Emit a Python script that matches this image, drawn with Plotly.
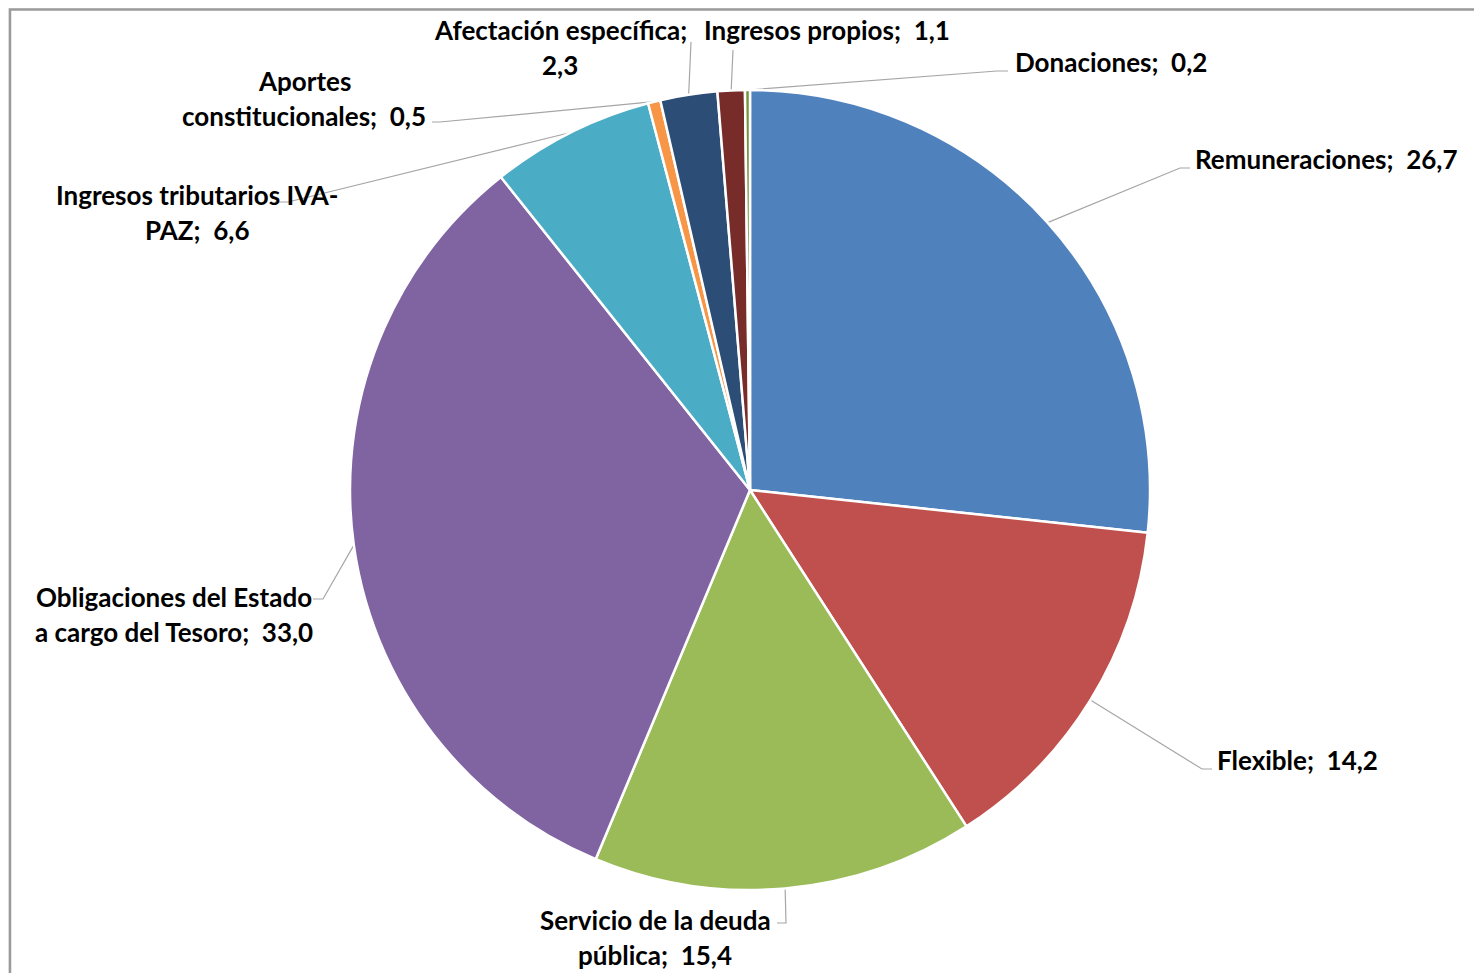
import math
import plotly.graph_objects as go

# ---- data ----
categories = ["Remuneraciones", "Flexible", "Servicio de la deuda pública",
              "Obligaciones del Estado a cargo del Tesoro", "Ingresos tributarios IVA-PAZ",
              "Aportes constitucionales", "Afectación específica", "Ingresos propios", "Donaciones"]
values = [26.7, 14.2, 15.4, 33.0, 6.6, 0.5, 2.3, 1.1, 0.2]
# how each label wraps ("|" marks a line break)
label_wraps = ["Remuneraciones;  {v}", "Flexible;  {v}", "Servicio de la deuda|pública;  {v}",
               "Obligaciones del Estado|a cargo del Tesoro;  {v}", "Ingresos tributarios IVA-|PAZ;  {v}",
               "Aportes|constitucionales;  {v}", "Afectación específica;|{v}", "Ingresos propios;  {v}",
               "Donaciones;  {v}"]

# ---- style / layout ----
colors = ["#4F81BD", "#C0504D", "#9BBB59", "#8064A2", "#4BACC6",
          "#F79646", "#2C4D75", "#772C2A", "#77933C"]
PAGE_W, PAGE_H = 1482, 973
OFF = 8                       # browser default body margin
W, H = PAGE_W - OFF, PAGE_H - OFF
CX, CY, R = 750, 490, 400     # in page pixels
# label anchor: (x, y_center_first_line, xanchor)
label_pos = [(1193, 159, "left"), (1215, 760, "left"), (655, 920, "center"),
             (174, 597, "center"), (197, 195, "center"), (304, 81, "center"),
             (560, 30, "center"), (702, 30, "left"), (1013, 62, "left")]
line_gap = 35
# leader line path after the arc point
leader_paths = [[(1180, 168), (1190, 168)], [(1202, 769), (1212, 769)], [(786, 923), (777, 923)],
                [(323, 599), (313, 599)], [(288, 202), (275, 202)], [(440, 122), (432, 122)],
                [(691, 42)], [(733, 50)], [(997, 71), (1008, 71)]]

fig = go.Figure()

# leader lines: start at slice mid-angle on the rim
total = sum(values)
cum = 0.0
for i, v in enumerate(values):
    mid = (cum + v / 2) / total * 2 * math.pi
    cum += v
    sx = CX + R * math.sin(mid)
    sy = CY - R * math.cos(mid)
    xs = [sx] + [p[0] for p in leader_paths[i]]
    ys = [sy] + [p[1] for p in leader_paths[i]]
    fig.add_trace(go.Scatter(x=xs, y=ys, mode="lines", line=dict(color="#A6A6A6", width=1.2),
                             hoverinfo="skip", showlegend=False))

fig.add_trace(go.Pie(
    labels=categories, values=values, sort=False, direction="clockwise", rotation=0,
    marker=dict(colors=colors, line=dict(color="white", width=2.5)),
    textinfo="none", hoverinfo="label+value", showlegend=False,
    domain=dict(x=[(CX - R - OFF) / W, (CX + R - OFF) / W],
                y=[(PAGE_H - CY - R) / H, (PAGE_H - CY + R) / H]),
))

for i, v in enumerate(values):
    txt = label_wraps[i].format(v=f"{v:.1f}".replace(".", ","))
    lines = txt.split("|")
    x0, y0, xa = label_pos[i]
    for j, ln in enumerate(lines):
        fig.add_annotation(x=x0, y=y0 + j * line_gap, xref="x", yref="y", text=ln,
                           showarrow=False, xanchor=xa, yanchor="middle",
                           font=dict(family="Lato", size=26, color="black", weight="bold"))

fig.add_shape(type="rect", x0=10, y0=9.5, x1=PAGE_W + 10, y1=PAGE_H + 10, xref="x", yref="y",
              line=dict(color="#9A9A9A", width=2.5), fillcolor="white", layer="below")

fig.update_layout(
    width=W, height=H, margin=dict(l=0, r=0, t=0, b=0),
    paper_bgcolor="#EEF3F6", plot_bgcolor="rgba(0,0,0,0)",
    xaxis=dict(range=[OFF, PAGE_W], visible=False, fixedrange=True),
    yaxis=dict(range=[PAGE_H, OFF], visible=False, fixedrange=True),
    showlegend=False,
)
fig.write_html("out.html")
